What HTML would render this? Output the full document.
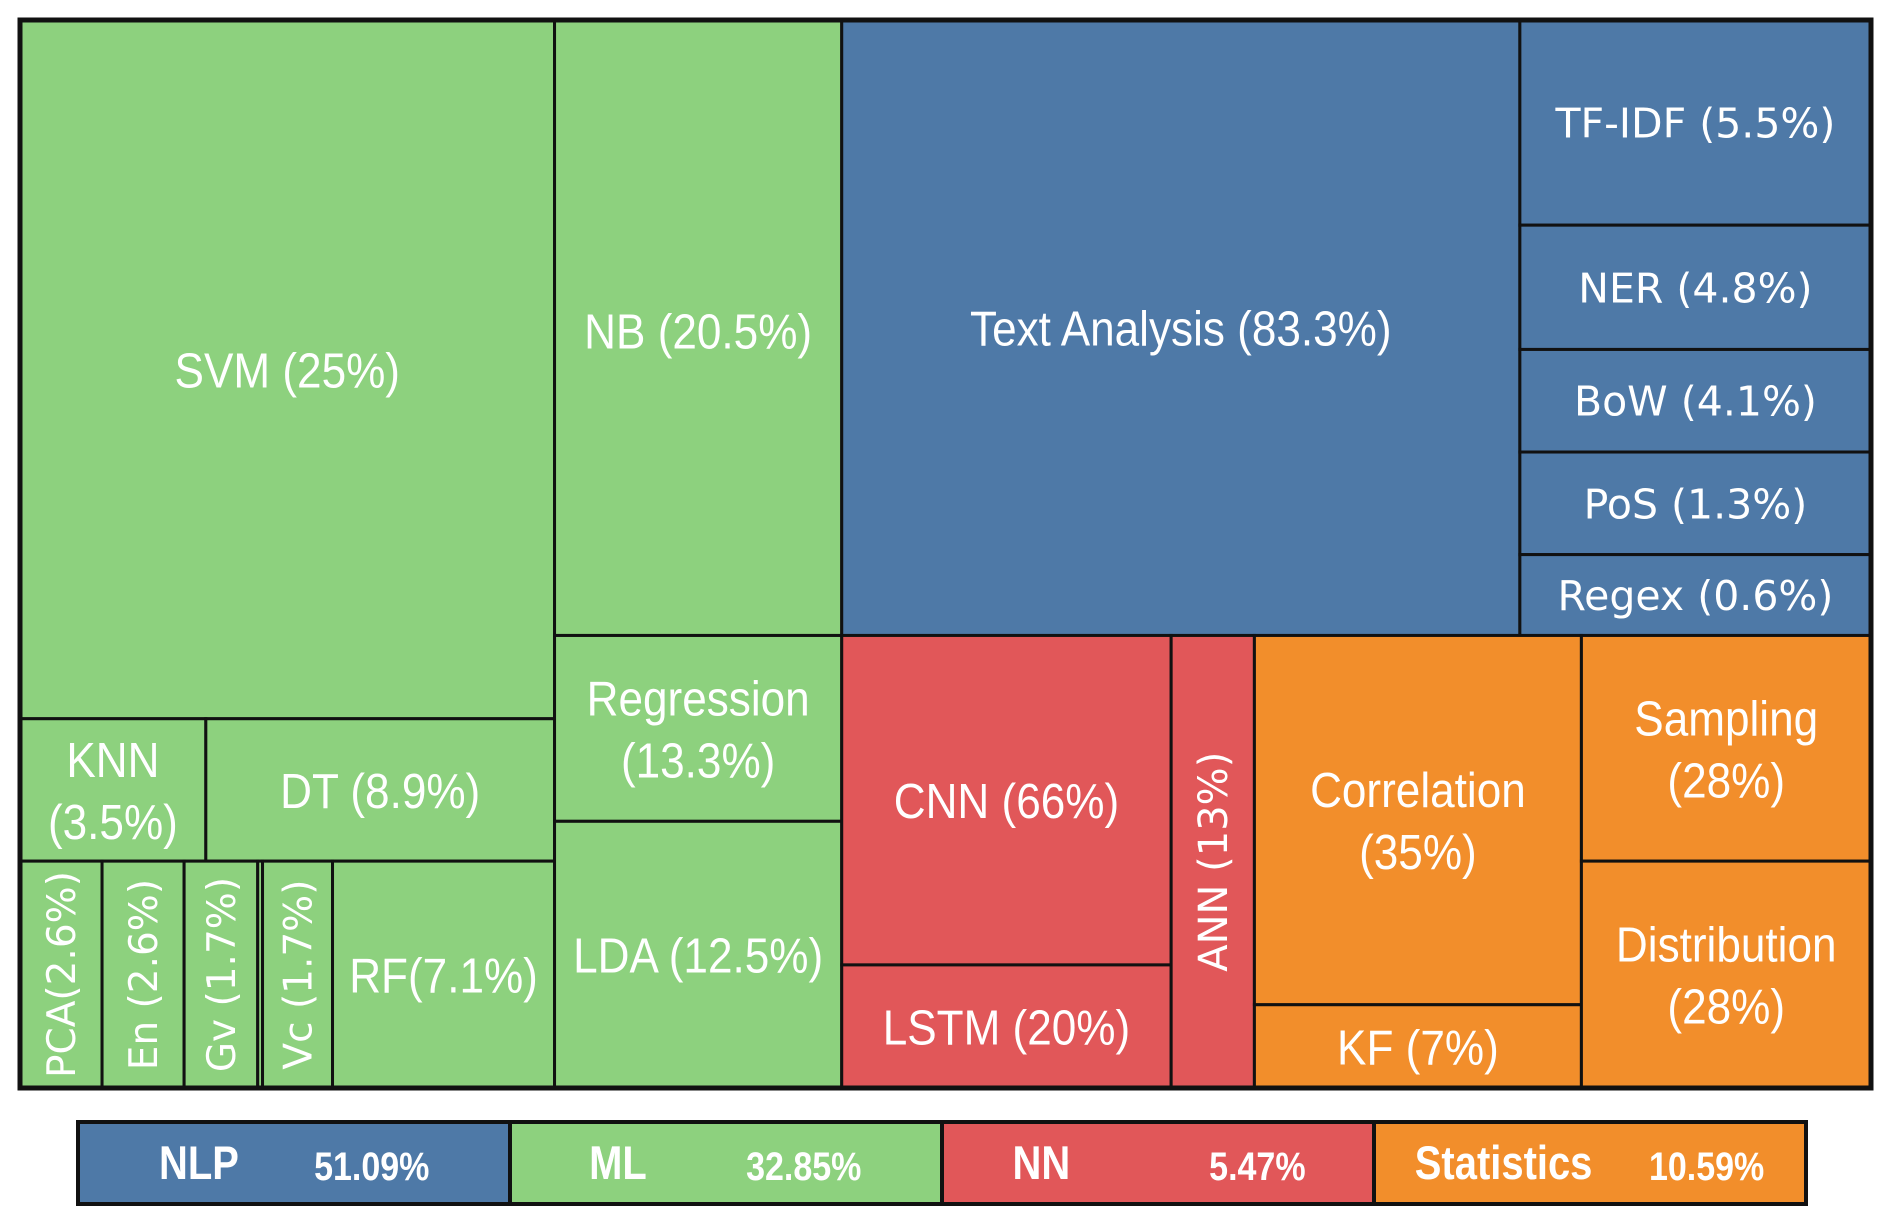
<!DOCTYPE html>
<html><head><meta charset="utf-8">
<style>
html,body{margin:0;padding:0;background:#fff;}
svg{display:block;}
</style></head>
<body>
<svg id="chart" width="1892" height="1226" viewBox="0 0 1892 1226" xmlns="http://www.w3.org/2000/svg"></svg>
<script>
// ---- data ----
const categories = ["NLP","ML","NN","Statistics"];
const categoryShares = [51.09, 32.85, 5.47, 10.59];
const categoryColors = {NLP:"#4e79a7", ML:"#8dd17e", NN:"#e15759", Statistics:"#f28e2b"};

const mlLabels = ["SVM (25%)","KNN|(3.5%)","DT (8.9%)","PCA(2.6%)","En (2.6%)","Gv (1.7%)","","Vc (1.7%)","RF(7.1%)","NB (20.5%)","Regression|(13.3%)","LDA (12.5%)"];
const nlpLabels = ["Text Analysis (83.3%)","TF-IDF (5.5%)","NER (4.8%)","BoW (4.1%)","PoS (1.3%)","Regex (0.6%)"];
const nnLabels = ["CNN (66%)","LSTM (20%)","ANN (13%)"];
const statLabels = ["Correlation|(35%)","KF (7%)","Sampling|(28%)","Distribution|(28%)"];

// relative sizes of sibling blocks along the split axis
const rootWeights = [443, 238, 853];
const svmColWeights = [579, 118, 188];
const knnDtWeights = [154, 289];
const smallRowWeights = [68, 68, 61, 4, 58, 184];
const nbColWeights = [510, 154, 221];
const rightPartWeights = [510, 375];
const topWeights = [562, 291];
const nlpSideWeights = [170, 103, 85, 85, 67];
const bottomWeights = [342, 511];
const nnWeights = [273, 69];
const cnnLstmWeights = [273, 102];
const statWeights = [271, 240];
const corrKfWeights = [306, 69];
const sampDistWeights = [187, 188];

const legendFractions = [1, 1, 1, 1];

// ---- layout tree ----
function leaf(label, cat, opts){ return Object.assign({leaf:true,label,cat},opts||{}); }
function node(dir, weights, children){ return {dir, weights, children}; }

const tree = node("h", rootWeights, [
  node("v", svmColWeights, [
    leaf(mlLabels[0],"ML"),
    node("h", knnDtWeights, [leaf(mlLabels[1],"ML"), leaf(mlLabels[2],"ML")]),
    node("h", smallRowWeights, [
      leaf(mlLabels[3],"ML",{vert:true}), leaf(mlLabels[4],"ML",{vert:true}),
      leaf(mlLabels[5],"ML",{vert:true}), leaf(mlLabels[6],"ML"),
      leaf(mlLabels[7],"ML",{vert:true}), leaf(mlLabels[8],"ML")])
  ]),
  node("v", nbColWeights, [leaf(mlLabels[9],"ML",{dy:3}), leaf(mlLabels[10],"ML"), leaf(mlLabels[11],"ML")]),
  node("v", rightPartWeights, [
    node("h", topWeights, [
      leaf(nlpLabels[0],"NLP"),
      node("v", nlpSideWeights, nlpLabels.slice(1).map(l=>leaf(l,"NLP",{wide:true})))
    ]),
    node("h", bottomWeights, [
      node("h", nnWeights, [
        node("v", cnnLstmWeights, [leaf(nnLabels[0],"NN"), leaf(nnLabels[1],"NN")]),
        leaf(nnLabels[2],"NN",{vert:true})
      ]),
      node("h", statWeights, [
        node("v", corrKfWeights, [leaf(statLabels[0],"Statistics"), leaf(statLabels[1],"Statistics")]),
        node("v", sampDistWeights, [leaf(statLabels[2],"Statistics"), leaf(statLabels[3],"Statistics")])
      ])
    ])
  ])
]);

const NS = "http://www.w3.org/2000/svg";
const svg = document.getElementById("chart");
const X0 = 20, Y0 = 20, W = 1851, H = 1068;

function mk(tag, attrs){ const e=document.createElementNS(NS,tag); for(const k in attrs) e.setAttribute(k,attrs[k]); return e; }
function slug(s){ return s.split("|")[0].replace(/\(.*$/,"").trim().toLowerCase().replace(/[^a-z0-9]+/g,"-") || "gap"; }

function layout(n, x, y, w, h){
  if(n.leaf){ drawLeaf(n,x,y,w,h); return; }
  const tot = n.weights.reduce((a,b)=>a+b,0);
  let off = 0;
  n.children.forEach((c,i)=>{
    const f = n.weights[i]/tot;
    if(n.dir==="h"){ layout(c, x+off*w, y, f*w, h); }
    else { layout(c, x, y+off*h, w, f*h); }
    off += f;
  });
}

function drawLeaf(n,x,y,w,h){
  const g = mk("g",{});
  
  
  const r = mk("rect",{x:x,y:y,width:w,height:h,fill:categoryColors[n.cat],stroke:"#111","stroke-width":3});
  g.appendChild(r);
  if(n.label){
    const cx = x+w/2, cy = y+h/2 + (n.dy||0);
    const lines = n.label.split("|");
    const t = mk("text",{fill:"#fff","text-anchor":"middle"});
    
    
    if(n.vert){
      t.setAttribute("font-family","'DejaVu Sans', sans-serif");
      t.setAttribute("font-size", n.cat==="NN" ? 40 : 39);
      t.setAttribute("transform",`translate(${cx+14},${cy}) rotate(-90)`);
      t.textContent = lines[0];
    } else if(n.wide){
      t.setAttribute("font-family","'DejaVu Sans', sans-serif");
      t.setAttribute("font-size",41);
      t.setAttribute("transform",`translate(${cx},${cy+15})`);
      t.textContent = lines[0];
    } else {
      t.setAttribute("font-family","'Liberation Sans', sans-serif");
      t.setAttribute("font-size",49);
      const lh = 62;
      const startY = -(lines.length-1)*lh/2 + 18;
      t.setAttribute("transform",`translate(${cx},${cy}) scale(0.9,1)`);
      lines.forEach((l,i)=>{
        const ts = mk("tspan",{x:0,y:startY+i*lh});
        ts.textContent = l;
        t.appendChild(ts);
      });
    }
    g.appendChild(t);
  }
  svg.appendChild(g);
}

layout(tree, X0, Y0, W, H);
const outer = mk("rect",{x:X0,y:Y0,width:W,height:H,fill:"none",stroke:"#111","stroke-width":5});


svg.appendChild(outer);

// ---- legend ----
const LX = 78, LY = 1122, LW = 1728, LH = 82;
const nameRel = [0.28, 0.25, 0.23, 0.30];
const pctRel = [0.68, 0.68, 0.73, 0.77];
const legend = mk("g",{});


svg.appendChild(legend);
const ftot = legendFractions.reduce((a,b)=>a+b,0);
let lo = 0;
categories.forEach((c,i)=>{
  const w = LW*legendFractions[i]/ftot, x = LX+lo;
  lo += w;
  const g = mk("g",{});
  
  
  g.appendChild(mk("rect",{x:x,y:LY,width:w,height:LH,fill:categoryColors[c],stroke:"#111","stroke-width":4}));
  const nx = x+w*nameRel[i], px = x+w*pctRel[i];
  const name = mk("text",{x:nx,y:LY+57,fill:"#fff","text-anchor":"middle","font-family":"'Liberation Sans', sans-serif","font-weight":"bold","font-size":47,transform:`translate(${nx},0) scale(0.85,1) translate(${-nx},0)`});
  
  
  name.textContent = c;
  g.appendChild(name);
  const pct = mk("text",{x:px,y:LY+58,fill:"#fff","text-anchor":"middle","font-family":"'Liberation Sans', sans-serif","font-weight":"bold","font-size":40,transform:`translate(${px},0) scale(0.85,1) translate(${-px},0)`});
  
  
  pct.textContent = categoryShares[i].toFixed(2) + "%";
  g.appendChild(pct);
  legend.appendChild(g);
});
</script>
</body></html>
